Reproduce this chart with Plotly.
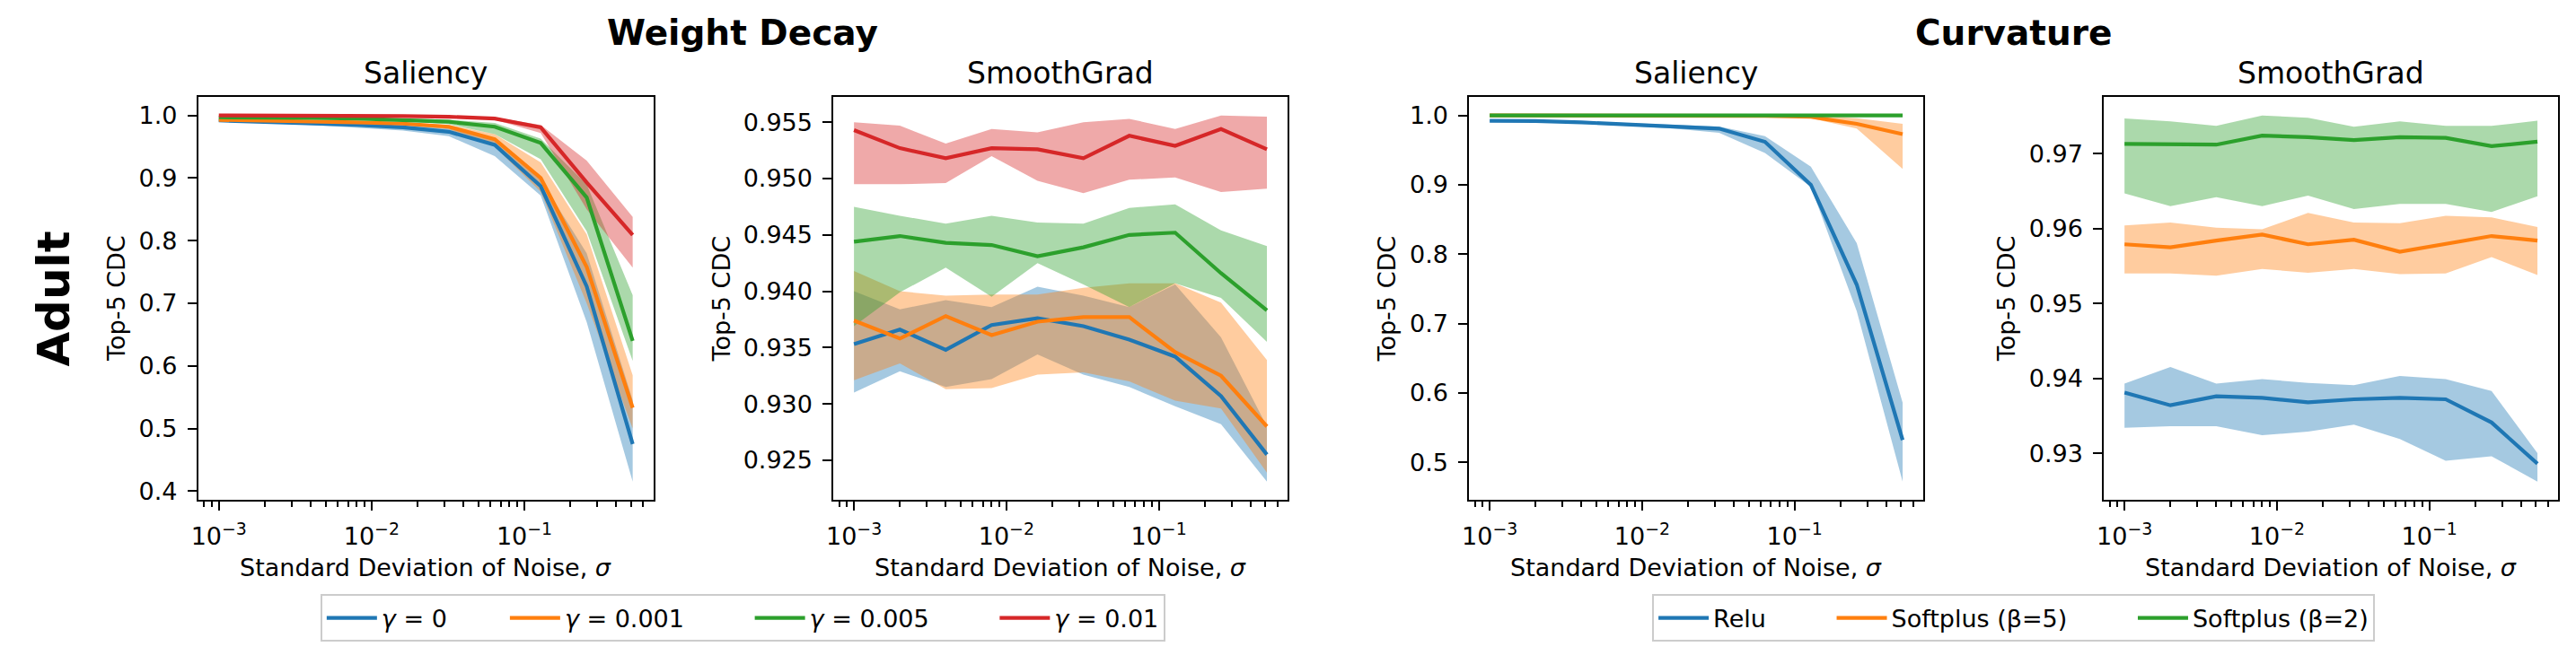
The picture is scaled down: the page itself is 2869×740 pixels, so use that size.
import numpy as np
import plotly.graph_objects as go

W, H = 2869, 740

# ---------------- data ----------------
sigma = [0.001, 0.002, 0.004, 0.008, 0.016, 0.032, 0.064, 0.128, 0.256, 0.512]

wd_labels = ["<i>γ</i> = 0", "<i>γ</i> = 0.001", "<i>γ</i> = 0.005", "<i>γ</i> = 0.01"]
cv_labels = ["Relu", "Softplus (β=5)", "Softplus (β=2)"]

# Weight Decay / Saliency
wds_mean_g0 = [0.992, 0.990, 0.988, 0.985, 0.981, 0.974, 0.953, 0.887, 0.727, 0.475]
wds_up_g0 = [0.994, 0.993, 0.991, 0.989, 0.986, 0.979, 0.963, 0.897, 0.780, 0.545]
wds_lo_g0 = [0.990, 0.988, 0.985, 0.981, 0.976, 0.967, 0.935, 0.872, 0.670, 0.415]
wds_mean_g1 = [0.993, 0.992, 0.991, 0.989, 0.987, 0.982, 0.962, 0.900, 0.758, 0.533]
wds_up_g1 = [0.995, 0.994, 0.993, 0.991, 0.989, 0.985, 0.970, 0.925, 0.810, 0.585]
wds_lo_g1 = [0.991, 0.990, 0.989, 0.987, 0.985, 0.978, 0.950, 0.878, 0.700, 0.500]
wds_mean_g5 = [0.997, 0.997, 0.996, 0.995, 0.993, 0.990, 0.982, 0.956, 0.869, 0.640]
wds_up_g5 = [0.998, 0.998, 0.997, 0.997, 0.995, 0.993, 0.988, 0.963, 0.890, 0.713]
wds_lo_g5 = [0.996, 0.995, 0.995, 0.993, 0.991, 0.986, 0.970, 0.930, 0.815, 0.608]
wds_mean_g10 = [1.000, 1.000, 1.000, 0.999, 0.999, 0.998, 0.995, 0.981, 0.893, 0.809]
wds_up_g10 = [1.000, 1.000, 1.000, 1.000, 1.000, 0.999, 0.997, 0.985, 0.928, 0.838]
wds_lo_g10 = [0.999, 0.999, 0.999, 0.998, 0.998, 0.997, 0.993, 0.972, 0.850, 0.757]

# Weight Decay / SmoothGrad
wdg_mean_g0 = [0.9353, 0.9366, 0.9348, 0.9370, 0.9376, 0.9369, 0.9357, 0.9342, 0.9307, 0.9255]
wdg_up_g0 = [0.9400, 0.9384, 0.9392, 0.9386, 0.9404, 0.9396, 0.9386, 0.9406, 0.9359, 0.9280]
wdg_lo_g0 = [0.9310, 0.9329, 0.9315, 0.9322, 0.9344, 0.9326, 0.9315, 0.9298, 0.9282, 0.9231]
wdg_mean_g1 = [0.9374, 0.9358, 0.9378, 0.9361, 0.9373, 0.9377, 0.9377, 0.9346, 0.9325, 0.9280]
wdg_up_g1 = [0.9418, 0.9400, 0.9396, 0.9397, 0.9397, 0.9403, 0.9407, 0.9407, 0.9390, 0.9339]
wdg_lo_g1 = [0.9321, 0.9336, 0.9313, 0.9314, 0.9326, 0.9328, 0.9320, 0.9303, 0.9296, 0.9239]
wdg_mean_g5 = [0.9444, 0.9449, 0.9443, 0.9441, 0.9431, 0.9439, 0.9450, 0.9452, 0.9416, 0.9383]
wdg_up_g5 = [0.9475, 0.9467, 0.9460, 0.9467, 0.9461, 0.9460, 0.9474, 0.9477, 0.9454, 0.9440]
wdg_lo_g5 = [0.9369, 0.9399, 0.9421, 0.9395, 0.9425, 0.9406, 0.9386, 0.9407, 0.9394, 0.9355]
wdg_mean_g10 = [0.9543, 0.9527, 0.9518, 0.9527, 0.9526, 0.9518, 0.9538, 0.9529, 0.9544, 0.9526]
wdg_up_g10 = [0.9550, 0.9547, 0.9531, 0.9544, 0.9541, 0.9550, 0.9553, 0.9544, 0.9556, 0.9555]
wdg_lo_g10 = [0.9495, 0.9495, 0.9496, 0.9520, 0.9498, 0.9487, 0.9499, 0.9501, 0.9488, 0.9491]

# Curvature / Saliency
cvs_mean_relu = [0.9923, 0.9920, 0.9900, 0.9870, 0.9840, 0.9810, 0.9620, 0.9000, 0.7560, 0.5320]
cvs_up_relu = [0.9935, 0.9932, 0.9915, 0.9890, 0.9870, 0.9840, 0.9700, 0.9260, 0.8160, 0.5860]
cvs_lo_relu = [0.9910, 0.9908, 0.9885, 0.9850, 0.9810, 0.9750, 0.9460, 0.8970, 0.7180, 0.4720]
cvs_mean_sp5 = [1.0000, 1.0000, 1.0000, 1.0000, 1.0000, 1.0000, 0.9995, 0.9980, 0.9880, 0.9730]
cvs_up_sp5 = [1.0000, 1.0000, 1.0000, 1.0000, 1.0000, 1.0000, 1.0000, 0.9995, 0.9960, 0.9880]
cvs_lo_sp5 = [1.0000, 1.0000, 1.0000, 1.0000, 1.0000, 0.9998, 0.9990, 0.9960, 0.9810, 0.9230]
cvs_mean_sp2 = [1.0000, 1.0000, 1.0000, 1.0000, 1.0000, 1.0000, 1.0000, 1.0000, 1.0000, 1.0000]
cvs_up_sp2 = [1.0000, 1.0000, 1.0000, 1.0000, 1.0000, 1.0000, 1.0000, 1.0000, 1.0000, 1.0000]
cvs_lo_sp2 = [0.9995, 0.9995, 0.9995, 0.9995, 0.9995, 0.9995, 0.9995, 0.9995, 0.9995, 0.9995]

# Curvature / SmoothGrad
cvg_mean_relu = [0.9381, 0.9364, 0.9376, 0.9374, 0.9368, 0.9372, 0.9374, 0.9372, 0.9341, 0.9286]
cvg_up_relu = [0.9393, 0.9415, 0.9393, 0.9399, 0.9394, 0.9391, 0.9403, 0.9399, 0.9383, 0.9300]
cvg_lo_relu = [0.9334, 0.9336, 0.9336, 0.9324, 0.9329, 0.9338, 0.9319, 0.9290, 0.9296, 0.9262]
cvg_mean_sp5 = [0.9579, 0.9575, 0.9584, 0.9592, 0.9579, 0.9585, 0.9569, 0.9580, 0.9590, 0.9584]
cvg_up_sp5 = [0.9604, 0.9608, 0.9601, 0.9599, 0.9621, 0.9608, 0.9607, 0.9617, 0.9615, 0.9602]
cvg_lo_sp5 = [0.9540, 0.9540, 0.9537, 0.9546, 0.9541, 0.9546, 0.9539, 0.9540, 0.9562, 0.9538]
cvg_mean_sp2 = [0.9713, 0.9713, 0.9712, 0.9724, 0.9722, 0.9718, 0.9722, 0.9721, 0.9710, 0.9716]
cvg_up_sp2 = [0.9747, 0.9743, 0.9737, 0.9751, 0.9748, 0.9736, 0.9743, 0.9737, 0.9737, 0.9744]
cvg_lo_sp2 = [0.9647, 0.9630, 0.9642, 0.9630, 0.9644, 0.9626, 0.9633, 0.9633, 0.9622, 0.9643]

colors = ["#1f77b4", "#ff7f0e", "#2ca02c", "#d62728"]
fills = ["rgba(31,119,180,0.4)", "rgba(255,127,14,0.4)", "rgba(44,160,44,0.4)", "rgba(214,39,40,0.4)"]

# column spacing (number of no-break spaces after each legend label)
wd_pads = [7, 8, 8, 0]
cv_pads = [8, 8, 0]

panels = [
    dict(title="Saliency", labels=wd_labels, pads=wd_pads, legend="legend", dtick=0.1, fmt=".1f",
         series=[(wds_mean_g0, wds_up_g0, wds_lo_g0), (wds_mean_g1, wds_up_g1, wds_lo_g1),
                 (wds_mean_g5, wds_up_g5, wds_lo_g5), (wds_mean_g10, wds_up_g10, wds_lo_g10)]),
    dict(title="SmoothGrad", labels=wd_labels, pads=wd_pads, legend=None, dtick=0.005, fmt=".3f",
         series=[(wdg_mean_g0, wdg_up_g0, wdg_lo_g0), (wdg_mean_g1, wdg_up_g1, wdg_lo_g1),
                 (wdg_mean_g5, wdg_up_g5, wdg_lo_g5), (wdg_mean_g10, wdg_up_g10, wdg_lo_g10)]),
    dict(title="Saliency", labels=cv_labels, pads=cv_pads, legend="legend2", dtick=0.1, fmt=".1f",
         series=[(cvs_mean_relu, cvs_up_relu, cvs_lo_relu), (cvs_mean_sp5, cvs_up_sp5, cvs_lo_sp5),
                 (cvs_mean_sp2, cvs_up_sp2, cvs_lo_sp2)]),
    dict(title="SmoothGrad", labels=cv_labels, pads=cv_pads, legend=None, dtick=0.01, fmt=".2f",
         series=[(cvg_mean_relu, cvg_up_relu, cvg_lo_relu), (cvg_mean_sp5, cvg_up_sp5, cvg_lo_sp5),
                 (cvg_mean_sp2, cvg_up_sp2, cvg_lo_sp2)]),
]

# ---------------- layout geometry (pixels) ----------------
x_dom_px = [(213.3, 721.7), (922.7, 1430.0), (1632.7, 2140.0), (2341.7, 2849.0)]
y_top_px, y_bot_px = 109.0, 561.0
ylabel_x_px = [122.5, 798.0, 1541.0, 2232.7]

def px(x):
    return x / W

def py(y):
    return 1 - y / H

FONT = "DejaVu Sans"
TICK = 27
fig = go.Figure()

lx = np.log10(sigma)
span = lx.max() - lx.min()
xrange_log = [lx.min() - 0.05 * span, lx.max() + 0.05 * span]
minor_vals = [m * 10.0 ** d for d in range(-4, 1) for m in range(2, 10)]

annotations = []
for i, p in enumerate(panels):
    k = "" if i == 0 else str(i + 1)
    xa, ya = "x" + k, "y" + k
    # fills first
    for j, (mean, up, lo) in enumerate(p["series"]):
        fig.add_trace(go.Scatter(
            x=list(sigma) + list(sigma)[::-1], y=list(up) + list(lo)[::-1],
            fill="toself", fillcolor=fills[j], line=dict(width=0), mode="lines",
            hoverinfo="skip", showlegend=False, xaxis=xa, yaxis=ya))
    for j, (mean, up, lo) in enumerate(p["series"]):
        tr = dict(x=sigma, y=mean, mode="lines", line=dict(color=colors[j], width=4.2),
                  name=p["labels"][j] + "\u00a0" * p["pads"][j], xaxis=xa, yaxis=ya)
        if p["legend"]:
            tr["legend"] = p["legend"]
            tr["showlegend"] = True
        else:
            tr["showlegend"] = False
        fig.add_trace(go.Scatter(**tr))

    lows = np.concatenate([np.array(s[2]) for s in p["series"]])
    ups = np.concatenate([np.array(s[1]) for s in p["series"]])
    lo_, hi_ = lows.min(), ups.max()
    pad = 0.05 * (hi_ - lo_)
    yr = [lo_ - pad, hi_ + pad]

    axis_common = dict(showline=True, mirror=True, linecolor="black", linewidth=2.2,
                       ticks="outside", ticklen=9.7, tickwidth=2.2, tickcolor="black",
                       showgrid=False, zeroline=False,
                       tickfont=dict(family=FONT, size=TICK, color="black"))
    x0, x1 = x_dom_px[i]
    fig.layout["xaxis" + k] = dict(
        type="log", range=xrange_log, domain=[px(x0), px(x1)], anchor=ya,
        tickvals=[0.001, 0.01, 0.1],
        ticktext=["10<sup>−3</sup>", "10<sup>−2</sup>", "10<sup>−1</sup>"],
        ticklabelstandoff=6,
        minor=dict(tickvals=minor_vals, ticks="outside", ticklen=5.6, tickwidth=1.7,
                   tickcolor="black", showgrid=False),
        **axis_common)
    fig.layout["yaxis" + k] = dict(
        range=yr, domain=[py(y_bot_px), py(y_top_px)], anchor=xa,
        tick0=0, dtick=p["dtick"], tickformat=p["fmt"], ticklabelstandoff=6,
        **axis_common)

    cx = (x0 + x1) / 2
    annotations.append(dict(text=p["title"], x=px(cx), y=py(82), xref="paper", yref="paper",
                            xanchor="center", yanchor="middle", showarrow=False,
                            font=dict(family=FONT, size=33, color="black")))
    annotations.append(dict(text="Standard Deviation of Noise, <i>σ</i>", x=px(cx), y=py(637),
                            xref="paper", yref="paper", xanchor="center", yanchor="middle",
                            showarrow=False, font=dict(family=FONT, size=TICK, color="black")))
    annotations.append(dict(text="Top-5 CDC", x=px(ylabel_x_px[i]), y=py((y_top_px + y_bot_px) / 2),
                            xref="paper", yref="paper", xanchor="center", yanchor="middle",
                            textangle=-90, showarrow=False,
                            font=dict(family=FONT, size=TICK, color="black")))

wd_center = (x_dom_px[0][0] + x_dom_px[1][1]) / 2
cv_center = (x_dom_px[2][0] + x_dom_px[3][1]) / 2
annotations.append(dict(text="<b>Weight Decay</b>", x=px(wd_center), y=py(37), xref="paper", yref="paper",
                        xanchor="center", yanchor="middle", showarrow=False,
                        font=dict(family=FONT, size=39, color="black")))
annotations.append(dict(text="<b>Curvature</b>", x=px(cv_center), y=py(37), xref="paper", yref="paper",
                        xanchor="center", yanchor="middle", showarrow=False,
                        font=dict(family=FONT, size=39, color="black")))
annotations.append(dict(text="<b>Adult</b>", x=px(52), y=py((y_top_px + y_bot_px) / 2), xref="paper",
                        yref="paper", xanchor="center", yanchor="middle", textangle=-90, showarrow=False,
                        font=dict(family=FONT, size=50, color="black")))

legend_common = dict(orientation="h", xanchor="center", yanchor="top", y=py(667),
                     bgcolor="rgba(255,255,255,0.8)", bordercolor="#cccccc", borderwidth=2,
                     itemwidth=56,
                     font=dict(family=FONT, size=TICK, color="black"))
fig.update_layout(
    width=W, height=H, margin=dict(l=0, r=0, t=0, b=0),
    paper_bgcolor="white", plot_bgcolor="white",
    annotations=annotations,
    legend=dict(x=px(wd_center), **legend_common),
    legend2=dict(x=px(cv_center), **legend_common),
    font=dict(family=FONT, color="black"),
)

fig.write_html("out.html", config={"displayModeBar": False},
               post_script="document.body.style.margin='0';document.body.style.overflow='hidden';")
